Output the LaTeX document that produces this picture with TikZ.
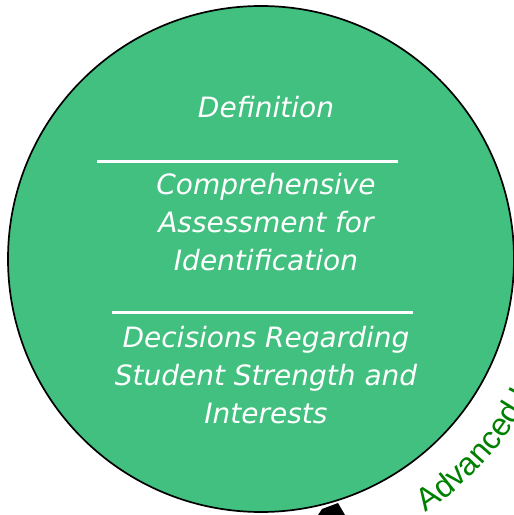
\documentclass[tikz,border=0pt]{standalone}
\usepackage{fontspec}
\setmainfont{DejaVu Sans}
\newfontfamily\ringfont{Liberation Sans}
\usetikzlibrary{decorations.text, positioning}
\definecolor{circlegreen}{RGB}{66, 192, 128}
\definecolor{ringgreen}{RGB}{0, 128, 0}

\begin{document}
\begin{tikzpicture}[x=1pt, y=1pt,
    stage/.style={text=white, anchor=base, inner sep=0pt, font=\itshape\fontsize{28}{30}\selectfont},
    divider/.style={white, line width=3pt}]
    \useasboundingbox (0,0) rectangle (514,515);
    \clip (0,0) rectangle (514,515);

    % black tip showing under the circle
    \fill[black] (318,0) -- (345,0) -- (338,12) -- (322,6) -- cycle;

    \node[circle, draw=black, line width=1.7pt, fill=circlegreen, minimum size=506pt, inner sep=0pt] (disc) at (261,256) {};

    \node[stage] (defn) at (266,397) {Definition};
    \draw[divider] (97,353) -- (398,353);

    \node[stage] (comp) at ([yshift=-77pt]defn.base) {Comprehensive};
    \node[stage] (assess) at ([yshift=-38pt]comp.base) {Assessment for};
    \node[stage] (ident) at ([yshift=-38pt]assess.base) {Identification};
    \draw[divider] (112,202) -- (413,202);

    \node[stage] (decis) at ([yshift=-77pt]ident.base) {Decisions Regarding};
    \node[stage] (strength) at ([yshift=-38pt]decis.base) {Student Strength and};
    \node[stage] (interest) at ([yshift=-38pt]strength.base) {Interests};

    % label running round the outside
    \path[shift={(disc.center)}, decorate, decoration={text along path, text align=left,
        text color=ringgreen, text={|\ringfont\fontsize{32}{34}\selectfont|Advanced Learning Plan}}]
        (-57:302) arc[start angle=-57, end angle=30, radius=302];
\end{tikzpicture}
\end{document}
